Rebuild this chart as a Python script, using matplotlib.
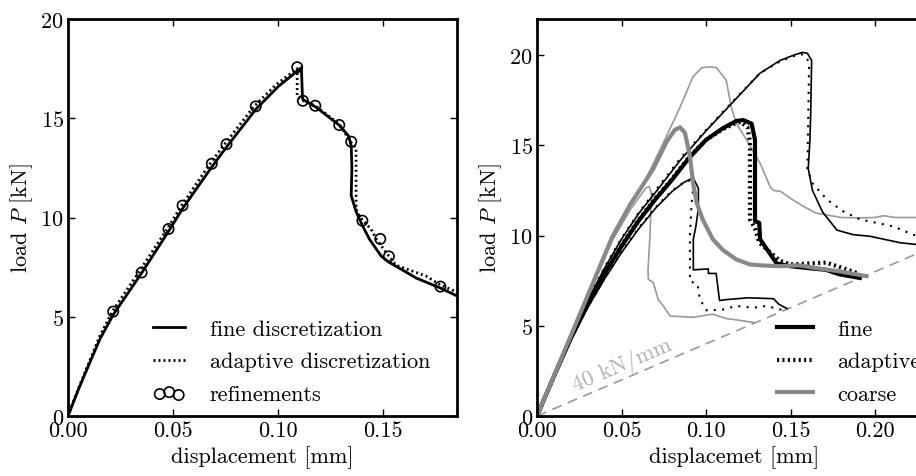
import matplotlib
matplotlib.use('Agg')
import matplotlib.pyplot as plt
import numpy as np

plt.rcParams['font.family'] = 'serif'
plt.rcParams['font.serif'] = ['cmr10']
plt.rcParams['mathtext.fontset'] = 'cm'
plt.rcParams['axes.formatter.use_mathtext'] = True
plt.rcParams['font.size'] = 16

# ---- left panel: fine vs adaptive ----
fine_x = [0, 0.005, 0.01, 0.0152, 0.0215, 0.035, 0.0478, 0.0545, 0.0684, 0.0754, 0.0893, 0.100,
          0.111, 0.1115, 0.1117, 0.118, 0.129, 0.1335, 0.1347, 0.135, 0.1347, 0.137, 0.140,
          0.1434, 0.149, 0.1526, 0.160, 0.1656, 0.177, 0.186]
fine_y = [0, 1.35, 2.6, 3.88, 5.1, 7.2, 9.3, 10.45, 12.55, 13.55, 15.45, 16.6,
          17.55, 16.05, 15.95, 15.55, 14.65, 14.1, 13.6, 12.5, 11.1, 10.3, 9.6,
          8.9, 8.05, 7.75, 7.3, 6.95, 6.45, 6.0]
adap_x = [0, 0.005, 0.01, 0.015, 0.021, 0.034, 0.047, 0.054, 0.0675, 0.0745, 0.0885, 0.099,
          0.109, 0.109, 0.1117, 0.118, 0.129, 0.1345, 0.137, 0.137, 0.139, 0.1442,
          0.1466, 0.1526, 0.156, 0.1703, 0.1771, 0.186]
adap_y = [0, 1.4, 2.7, 4.0, 5.25, 7.3, 9.4, 10.6, 12.7, 13.7, 15.6, 16.7,
          17.5, 16.1, 15.9, 15.6, 14.7, 13.8, 13.5, 10.4, 10.0, 9.4,
          8.92, 8.05, 7.6, 7.05, 6.6, 6.2]
ref_x = [0.0215, 0.035, 0.0478, 0.0545, 0.0684, 0.0754, 0.0893, 0.109, 0.1117, 0.1176,
         0.129, 0.1347, 0.140, 0.1485, 0.1526, 0.1771]
ref_y = [5.26, 7.23, 9.42, 10.6, 12.71, 13.69, 15.6, 17.57, 15.88, 15.63,
         14.66, 13.82, 9.84, 8.92, 8.04, 6.52]

# ---- right panel: three specimens (A thick, B and C thin) ----
A_fine_x = [0, 0.01, 0.02, 0.03, 0.04, 0.05, 0.06, 0.07, 0.08, 0.09, 0.10, 0.11, 0.118, 0.122,
            0.127, 0.129, 0.129, 0.1315, 0.132, 0.1418, 0.150, 0.160, 0.171, 0.179, 0.191]
A_fine_y = [0, 2.2, 4.3, 6.2, 7.9, 9.4, 10.8, 12.0, 13.1, 14.3, 15.3, 15.95, 16.35, 16.4,
            16.2, 15.3, 10.8, 10.7, 9.8, 8.45, 8.3, 8.2, 8.1, 7.85, 7.65]
A_adap_x = [0, 0.01, 0.02, 0.03, 0.04, 0.05, 0.06, 0.07, 0.08, 0.09, 0.10, 0.11, 0.117, 0.1205,
            0.1245, 0.126, 0.126, 0.129, 0.1315, 0.1438, 0.150, 0.160, 0.171, 0.181, 0.190]
A_adap_y = [0, 2.2, 4.35, 6.25, 7.95, 9.45, 10.85, 12.05, 13.15, 14.35, 15.3, 15.9, 16.2, 16.3,
            16.0, 15.2, 10.9, 10.4, 9.6, 8.6, 8.4, 8.45, 8.5, 8.2, 7.9]
A_coarse_x = [0, 0.0225, 0.0444, 0.055, 0.0688, 0.0767, 0.0815, 0.0846, 0.0875, 0.0905, 0.0925,
              0.0945, 0.098, 0.104, 0.110, 0.118, 0.126, 0.132, 0.144, 0.155, 0.165, 0.180, 0.195]
A_coarse_y = [0, 5.0, 9.9, 11.7, 13.7, 15.2, 15.85, 16.0, 15.7, 14.4, 12.8,
              11.8, 10.9, 9.8, 9.2, 8.67, 8.4, 8.35, 8.3, 8.35, 8.2, 8.0, 7.75]

B_fine_x = [0, 0.01, 0.02, 0.03, 0.04, 0.05, 0.06, 0.071, 0.085, 0.100, 0.115, 0.132, 0.1438,
            0.152, 0.157, 0.160, 0.1625, 0.162, 0.1615, 0.1605, 0.163, 0.169, 0.1775, 0.187,
            0.197, 0.215, 0.235]
B_fine_y = [0, 2.25, 4.4, 6.4, 8.2, 9.8, 11.2, 12.5, 14.2, 15.8, 17.3, 19.0, 19.7,
            20.0, 20.15, 20.1, 19.7, 17.0, 15.3, 13.7, 12.5, 11.3, 10.3, 10.05,
            9.96, 9.6, 9.4]
B_adap_x = [0, 0.01, 0.02, 0.03, 0.04, 0.05, 0.06, 0.071, 0.085, 0.100, 0.115, 0.132, 0.1438,
            0.152, 0.1565, 0.1595, 0.161, 0.1605, 0.160, 0.163, 0.1715, 0.181, 0.191, 0.211,
            0.2225, 0.235]
B_adap_y = [0, 2.25, 4.42, 6.42, 8.25, 9.85, 11.25, 12.6, 14.3, 15.85, 17.35, 19.0, 19.65,
            19.95, 20.05, 19.9, 19.5, 16.5, 13.7, 12.9, 12.0, 11.35, 10.9, 10.5,
            10.05, 9.7]
B_coarse_x = [0, 0.0225, 0.0444, 0.055, 0.0627, 0.0728, 0.0846, 0.0923, 0.0975, 0.1024, 0.1062,
              0.112, 0.115, 0.118, 0.124, 0.132, 0.138, 0.140, 0.144, 0.151, 0.158, 0.165,
              0.180, 0.191, 0.200, 0.205, 0.212, 0.235]
B_coarse_y = [0, 4.95, 9.8, 11.6, 12.8, 14.75, 17.1, 18.8, 19.3, 19.35, 19.3,
              18.6, 17.1, 16.2, 15.3, 14.0, 12.7, 12.5, 12.45, 12.0, 11.6, 11.25,
              11.0, 10.98, 11.0, 11.1, 11.0, 11.0]

C_fine_x = [0, 0.01, 0.02, 0.03, 0.04, 0.05, 0.06, 0.07, 0.08, 0.087, 0.0925, 0.0955, 0.0955,
            0.094, 0.0925, 0.0925, 0.1014, 0.1014, 0.106, 0.108, 0.112, 0.125, 0.140, 0.143,
            0.148]
C_fine_y = [0, 2.15, 4.2, 6.0, 7.6, 9.05, 10.35, 11.5, 12.45, 12.95, 13.2, 12.6, 11.5,
            10.5, 9.8, 8.1, 8.15, 7.9, 7.9, 6.4, 6.45, 6.55, 6.5, 6.2, 5.95]
C_adap_x = [0, 0.01, 0.02, 0.03, 0.04, 0.05, 0.06, 0.07, 0.08, 0.087, 0.092, 0.0925, 0.0915,
            0.0905, 0.0905, 0.095, 0.0964, 0.1004, 0.110, 0.118, 0.128, 0.136, 0.1438, 0.148]
C_adap_y = [0, 2.15, 4.22, 6.03, 7.63, 9.1, 10.4, 11.55, 12.5, 12.95, 13.1, 12.7, 11.8,
            10.0, 7.47, 7.3, 6.46, 5.85, 5.9, 6.1, 6.0, 6.1, 5.9, 5.95]
C_coarse_x = [0, 0.0225, 0.0444, 0.055, 0.061, 0.0645, 0.0665, 0.0678, 0.0672, 0.0668, 0.0657,
              0.0659, 0.0688, 0.0717, 0.0747, 0.0787, 0.0925, 0.104, 0.112, 0.120, 0.128]
C_coarse_y = [0, 4.9, 9.7, 11.4, 12.2, 12.65, 12.7, 12.3, 11.0, 9.9, 8.1,
              7.57, 7.4, 6.46, 6.1, 5.54, 5.47, 5.64, 5.4, 5.3, 5.19]

stiff = 40.0  # kN/mm reference line

fig = plt.figure(figsize=(9.16, 4.77), dpi=100)
ax1 = fig.add_axes([68/916, 1-417/477, (457-68)/916, 397/477])
ax2 = fig.add_axes([537/916, 1-417/477, 0.43, 397/477])

# left
ax1.plot(fine_x, fine_y, 'k-', lw=2, label='fine discretization')
ax1.plot(adap_x, adap_y, 'k', lw=2, ls=(0, (0.7, 1.1)), label='adaptive discretization')
ax1.scatter(ref_x, ref_y, s=55, facecolors='none', edgecolors='k', lw=1.2,
            label='refinements', zorder=3)
ax1.set_xlim(0, 0.185)
ax1.set_ylim(0, 20)
ax1.set_xticks([0, 0.05, 0.10, 0.15])
ax1.set_xticklabels(['0.00', '0.05', '0.10', '0.15'])
ax1.set_yticks([0, 5, 10, 15, 20])
ax1.set_xlabel('displacement [mm]')
ax1.set_ylabel('load $P$ [kN]')
ax1.legend(loc='lower left', bbox_to_anchor=(142/916, 1-416/477),
           bbox_transform=fig.transFigure, frameon=False, borderpad=0,
           handlelength=1.45, handletextpad=1.1, labelspacing=0.58, scatterpoints=3)

# right
xs = np.array([0, 0.235])
ax2.plot(xs, stiff*xs, '--', color='#999999', lw=1.2, dashes=(6, 4), zorder=1)
ax2.text(0.024, 1.1, '40 kN/mm', color='#b0b0b0', rotation=23.2,
         rotation_mode='anchor', ha='left', va='bottom', fontsize=16)
ax2.plot(B_coarse_x, B_coarse_y, color='#999999', lw=1.2)
ax2.plot(C_coarse_x, C_coarse_y, color='#999999', lw=1.2)
ax2.plot(B_fine_x, B_fine_y, 'k-', lw=1.2)
ax2.plot(B_adap_x, B_adap_y, 'k', lw=1.5, ls=(0, (1, 3)))
ax2.plot(C_fine_x, C_fine_y, 'k-', lw=1.2)
ax2.plot(C_adap_x, C_adap_y, 'k', lw=1.5, ls=(0, (1, 3)))
ax2.plot(A_fine_x, A_fine_y, 'k-', lw=3, label='fine')
ax2.plot(A_adap_x, A_adap_y, 'k', lw=3, ls=(0, (0.5, 0.8)), label='adaptive')
ax2.plot(A_coarse_x, A_coarse_y, '-', color='#888888', lw=3, label='coarse')
ax2.set_xlim(0, 0.43*916/1690)
ax2.set_ylim(0, 22)
ax2.set_xticks([0, 0.05, 0.10, 0.15, 0.20])
ax2.set_xticklabels(['0.00', '0.05', '0.10', '0.15', '0.20'])
ax2.set_yticks([0, 5, 10, 15, 20])
ax2.set_xlabel('displacemet [mm]')
ax2.set_ylabel('load $P$ [kN]')
ax2.legend(loc='lower left', bbox_to_anchor=(766/916, 1-416/477),
           bbox_transform=fig.transFigure, frameon=False, borderpad=0,
           handlelength=1.6, handletextpad=1.1, labelspacing=0.58)

for ax in (ax1, ax2):
    for sp in ax.spines.values():
        sp.set_linewidth(2)
    ax.tick_params(direction='in', top=True, right=True, length=5, width=1, pad=3)

fig.savefig('out.png', dpi=100)
